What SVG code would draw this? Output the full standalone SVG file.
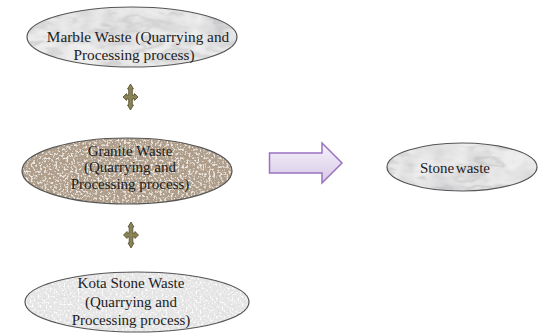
<svg xmlns="http://www.w3.org/2000/svg" width="539" height="333" viewBox="0 0 539 333">
<style>
.t{font-family:"Liberation Serif","DejaVu Serif","Times New Roman",serif;fill:#222;text-anchor:middle}
.edge{fill:none;stroke:#555;stroke-width:1.2}
.cross{fill:#8b8456;stroke:#4e4a2a;stroke-width:0.8}
</style>
<defs>
<filter id="marble" x="0" y="0" width="1" height="1">
<feTurbulence type="fractalNoise" baseFrequency="0.025 0.06" numOctaves="4" seed="3" result="n"/>
<feColorMatrix in="n" type="matrix" values="0 0 0 0 0.5  0 0 0 0 0.5  0 0 0 0 0.52  1 0 0 0 0" result="a"/>
<feComponentTransfer in="a" result="v"><feFuncA type="table" tableValues="0 0 0.1 0.6 0.1 0 0.15 0.5 0.15 0 0"/></feComponentTransfer>
<feTurbulence type="fractalNoise" baseFrequency="0.03" numOctaves="3" seed="9" result="n2"/>
<feColorMatrix in="n2" type="matrix" values="0 0 0 0 0.6  0 0 0 0 0.6  0 0 0 0 0.62  0 1.6 0 0 -0.6" result="s"/>
<feMerge result="m"><feMergeNode in="s"/><feMergeNode in="v"/></feMerge>
<feComposite in="m" in2="SourceGraphic" operator="atop"/>
</filter>
<filter id="granite" x="0" y="0" width="1" height="1">
<feTurbulence type="fractalNoise" baseFrequency="0.45" numOctaves="2" seed="5" result="n"/>
<feColorMatrix in="n" type="matrix" values="0 0 0 0 0.42  0 0 0 0 0.36  0 0 0 0 0.3  5 0 0 0 -2.7" result="d"/>
<feColorMatrix in="n" type="matrix" values="0 0 0 0 0.86  0 0 0 0 0.82  0 0 0 0 0.76  0 -5 0 0 2.5" result="l"/>
<feMerge result="m"><feMergeNode in="d"/><feMergeNode in="l"/></feMerge>
<feComposite in="m" in2="SourceGraphic" operator="atop"/>
</filter>
<filter id="kota" x="0" y="0" width="1" height="1">
<feTurbulence type="fractalNoise" baseFrequency="0.5" numOctaves="2" seed="8" result="n"/>
<feColorMatrix in="n" type="matrix" values="0 0 0 0 0.72  0 0 0 0 0.72  0 0 0 0 0.72  4 0 0 0 -2.1" result="d"/>
<feColorMatrix in="n" type="matrix" values="0 0 0 0 1  0 0 0 0 1  0 0 0 0 1  0 -4 0 0 2" result="l"/>
<feMerge result="m"><feMergeNode in="d"/><feMergeNode in="l"/></feMerge>
<feComposite in="m" in2="SourceGraphic" operator="atop"/>
</filter>
<linearGradient id="arrowGrad" x1="0" y1="0" x2="0" y2="1">
<stop offset="0" stop-color="#f7f3fb"/>
<stop offset="1" stop-color="#d6c8e6"/>
</linearGradient>
<path id="crossShape" d="M0,-13 L3,-8 L1.8,-8 L1.8,-2 L4,-2 L4,-3.5 L7.5,0 L4,3.5 L4,2 L1.8,2 L1.8,8 L3,8 L0,13 L-3,8 L-1.8,8 L-1.8,2 L-4,2 L-4,3.5 L-7.5,0 L-4,-3.5 L-4,-2 L-1.8,-2 L-1.8,-8 L-3,-8 Z"/>
</defs>

<g id="marble-waste">
<ellipse cx="132" cy="37" rx="105" ry="30" fill="#eeeeee" filter="url(#marble)"/>
<ellipse class="edge" cx="132" cy="37" rx="105" ry="30"/>
<text class="t" x="138" y="42" font-size="15.3">Marble Waste (Quarrying and</text>
<text class="t" x="134" y="60" font-size="15.3">Processing process)</text>
</g>

<g id="granite-waste">
<ellipse cx="127" cy="171" rx="105" ry="33" fill="#ae9c88" filter="url(#granite)"/>
<ellipse class="edge" cx="127" cy="171" rx="105" ry="33"/>
<text class="t" x="130" y="156" font-size="15">Granite Waste</text>
<text class="t" x="130" y="172" font-size="15">(Quarrying and</text>
<text class="t" x="130" y="189" font-size="15">Processing process)</text>
</g>

<g id="kota-stone-waste">
<ellipse cx="137" cy="302" rx="112" ry="30" fill="#e6e6e6" filter="url(#kota)"/>
<ellipse class="edge" cx="137" cy="302" rx="112" ry="30"/>
<text class="t" x="131" y="288" font-size="15">Kota Stone Waste</text>
<text class="t" x="131" y="307" font-size="15">(Quarrying and</text>
<text class="t" x="131" y="325" font-size="15">Processing process)</text>
</g>

<g id="stone-waste">
<ellipse cx="462" cy="167" rx="75" ry="24" fill="#efefef" filter="url(#marble)"/>
<ellipse class="edge" cx="462" cy="167" rx="75" ry="24"/>
<text class="t" x="455" y="173" font-size="15" word-spacing="-2">Stone waste</text>
</g>

<g id="connectors">
<use href="#crossShape" class="cross" transform="translate(130.5,97)"/>
<use href="#crossShape" class="cross" transform="translate(131,235)"/>
<path d="M269.5,153 L322,153 L322,143 L342,163 L322,183 L322,173 L269.5,173 Z" fill="url(#arrowGrad)" stroke="#9a72c2" stroke-width="1.5" stroke-linejoin="miter"/>
</g>
</svg>
